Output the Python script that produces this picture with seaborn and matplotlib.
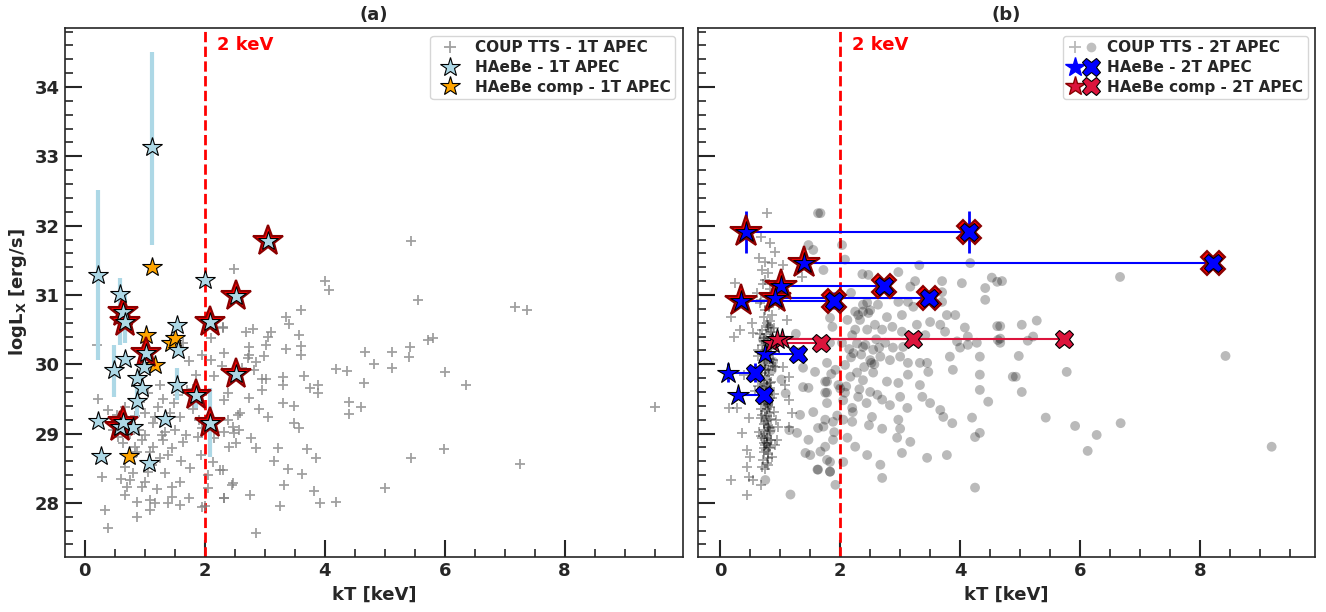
import pandas as pd
import seaborn as sns
import matplotlib.pyplot as plt
from matplotlib.lines import Line2D
from matplotlib.legend_handler import HandlerTuple
from matplotlib.ticker import MultipleLocator

# ---------------- panel (a): 1T APEC ----------------
# COUP TTS single-temperature fits (kT [keV], logLx [erg/s])
coup1_kt = [5.44, 2.48, 4.01, 4.08, 5.55, 3.61, 3.36, 3.40, 2.30, 2.11, 2.68, 2.80, 3.10, 3.05, 3.57,
            3.02, 2.74, 3.36, 3.61, 2.32, 2.74, 2.99, 3.61, 4.68, 5.13, 5.42, 5.40, 4.83, 5.13, 2.72,
            2.85, 2.10, 1.96, 2.28, 2.15, 2.82, 2.95, 3.02, 3.31, 3.31, 3.66, 4.19, 4.38, 3.89, 3.76,
            3.89, 4.66, 2.38, 2.32, 2.74, 2.95, 3.31, 3.49, 4.41, 4.40, 4.61, 3.05, 2.58, 2.38, 3.49,
            3.57, 2.32, 2.48, 2.57, 2.77, 2.52, 2.16, 2.85, 3.22, 3.71, 3.86, 2.13, 2.06, 2.30, 3.39,
            3.62, 2.45, 2.06, 3.32, 2.75, 2.32, 3.83, 3.93, 4.19, 3.26, 2.00, 2.85, 5.00, 5.44, 7.18,
            7.37, 5.72, 5.81, 6.01, 6.36, 9.51, 5.99, 7.25, 0.20, 0.22, 0.39, 0.67, 0.54, 1.01, 1.22,
            1.17, 1.59, 1.48, 1.29, 1.31, 1.01, 0.64, 0.84, 0.87, 0.79, 1.09, 1.14, 1.46, 1.39, 1.63,
            1.68, 1.88, 1.93, 0.67, 0.81, 0.76, 1.01, 0.70, 0.96, 1.34, 1.46, 1.59, 0.29, 0.67, 0.87,
            1.09, 1.17, 1.09, 0.87, 1.38, 1.46, 1.59, 1.73, 1.96, 0.34, 0.39, 1.96, 1.73, 1.71, 1.06,
            1.34, 1.64, 2.30, 2.47, 2.55, 2.40, 2.26, 2.47, 2.32, 1.85, 1.80, 1.25, 0.92, 1.12, 0.95,
            1.50, 1.60, 1.75, 1.20, 0.55, 1.30, 0.90, 1.05, 1.25, 0.60, 0.75, 1.42, 1.80, 1.90, 2.62,
            2.90, 3.15, 1.55, 1.13, 0.83, 0.47]
coup1_logl = [31.78, 31.38, 31.20, 31.07, 30.93, 30.78, 30.68, 30.58, 30.53, 30.38, 30.47, 30.51, 30.47, 30.40, 30.42,
              30.28, 30.25, 30.22, 30.27, 30.16, 30.14, 30.12, 30.14, 30.18, 30.18, 30.25, 30.11, 30.01, 29.95, 30.09,
              30.03, 30.06, 30.14, 29.98, 29.83, 29.92, 29.79, 29.79, 29.82, 29.70, 29.83, 29.93, 29.90, 29.70, 29.66,
              29.59, 29.73, 29.59, 29.49, 29.52, 29.63, 29.44, 29.40, 29.46, 29.28, 29.39, 29.24, 29.30, 29.20, 29.15,
              29.08, 29.02, 29.01, 29.05, 28.94, 28.87, 28.94, 28.79, 28.79, 28.78, 28.65, 28.59, 28.40, 28.48, 28.49,
              28.42, 28.26, 28.22, 28.26, 28.12, 28.07, 28.17, 28.00, 28.01, 27.96, 27.96, 27.57, 28.22, 28.65, 30.83,
              30.79, 30.35, 30.38, 29.89, 29.70, 29.39, 28.78, 28.56, 30.28, 29.50, 29.34, 29.39, 29.27, 29.30, 29.39,
              29.24, 29.24, 29.44, 28.98, 28.91, 28.98, 28.87, 28.81, 28.74, 28.66, 28.74, 28.81, 28.79, 28.69, 28.88,
              28.98, 28.95, 28.69, 28.52, 28.43, 28.33, 28.30, 28.23, 28.23, 28.43, 28.23, 28.30, 28.38, 28.12, 28.01,
              28.04, 28.00, 27.90, 27.80, 28.00, 28.09, 27.97, 28.07, 27.94, 27.90, 27.64, 29.08, 30.04, 29.63, 29.59,
              29.02, 30.31, 30.54, 29.10, 29.27, 28.81, 28.48, 28.29, 28.07, 29.85, 29.65, 29.70, 29.45, 28.55, 28.90,
              29.05, 28.60, 28.50, 28.20, 28.95, 29.50, 29.05, 28.45, 28.65, 28.35, 29.00, 29.30, 29.35, 29.20, 29.95,
              29.35, 28.60, 29.55, 29.15, 29.25, 29.05]

# HAeBe 1T fits, with asymmetric logLx errors; ring = highlighted source
haebe1_kt = [0.22, 1.12, 2.00, 0.59, 3.05, 2.52, 0.64, 0.67, 1.54, 1.56, 2.08, 1.02, 0.67, 0.49, 0.99,
             0.87, 0.96, 0.87, 1.54, 1.85, 2.52, 2.08, 0.22, 0.59, 0.80, 1.34, 0.27, 1.07, 0.63]
haebe1_logl = [31.29, 33.14, 31.22, 31.02, 31.78, 30.99, 30.76, 30.61, 30.57, 30.21, 30.61, 30.16, 30.08, 29.91, 29.96,
               29.80, 29.66, 29.47, 29.70, 29.56, 29.86, 29.15, 29.18, 29.10, 29.10, 29.21, 28.68, 28.57, 29.16]
haebe1_err_lo = [1.23, 1.42, 0, 0.74, 0, 0, 0, 0.30, 0, 0, 0, 0, 0, 0.38, 0,
                 0, 0, 0.25, 0.21, 0.19, 0, 0.49, 0, 0, 0, 0, 0.08, 0, 0]
haebe1_err_hi = [1.23, 1.37, 0, 0.23, 0, 0, 0, 0.45, 0, 0, 0, 0, 0, 0.37, 0,
                 0, 0, 0.20, 0.25, 0.07, 0, 0.51, 0, 0, 0, 0, 0.02, 0, 0]
haebe1_ring = [0, 0, 0, 0, 1, 1, 1, 1, 0, 0, 1, 1, 0, 0, 0,
               0, 0, 0, 0, 1, 1, 1, 0, 1, 0, 0, 0, 0, 1]

comp1_kt = [1.12, 1.02, 1.43, 1.51, 1.17, 0.74, 0.63]
comp1_logl = [31.41, 30.42, 30.31, 30.38, 29.99, 28.68, 29.17]

# ---------------- panel (b): 2T APEC ----------------
# COUP TTS cool component (crosses)
coup2_kt1 = [0.78, 0.67, 0.83, 0.64, 0.86, 0.69, 1.05, 1.36, 0.75, 0.25, 0.61, 0.17, 0.33, 0.22, 0.53,
             0.55, 1.11, 1.05, 1.14, 1.08, 1.14, 0.14, 0.28, 0.36, 0.97, 1.14, 0.95, 0.83, 0.44, 0.50,
             0.80, 0.44, 0.47, 0.69, 0.17, 0.55, 0.67, 0.44, 0.58, 0.62, 0.91, 1.20, 0.40, 0.48, 0.98,
             0.74, 0.79, 0.71, 0.83, 0.77, 0.68, 0.81, 0.75, 0.86, 0.72, 0.78, 0.80, 0.70, 0.84, 0.76,
             0.73, 0.82, 0.79, 0.69, 0.77, 0.85, 0.74, 0.71, 0.80, 0.78, 0.83, 0.75, 0.72, 0.88, 0.76,
             0.79, 0.70, 0.81, 0.74, 0.77, 0.84, 0.73, 0.78, 0.82, 0.69, 0.76, 0.80, 0.72, 0.87, 0.75,
             0.79, 0.71, 0.83, 0.77, 0.74, 0.81, 0.78, 0.68, 0.85, 0.76, 0.73, 0.80, 0.79, 0.72, 0.82,
             0.75, 0.77, 0.70, 0.84, 0.78, 0.74, 0.81, 0.76, 0.73, 0.79, 0.86, 0.71, 0.77, 0.80, 0.75,
             0.82, 0.72, 0.78, 0.74, 0.83, 0.76, 0.79, 0.69, 0.81, 0.77, 0.73, 0.80, 0.75, 0.78, 0.72,
             0.66, 0.90, 0.63, 0.92, 0.65, 0.89, 0.67, 0.93, 0.64, 0.91, 0.66, 0.88, 0.62, 0.90, 0.67]
coup2_logl1 = [32.18, 31.84, 31.75, 31.53, 31.46, 31.36, 31.43, 31.26, 31.22, 31.17, 31.03, 30.68, 30.50, 30.40, 30.60,
               30.45, 30.64, 29.96, 29.82, 29.70, 29.49, 29.37, 29.37, 29.01, 29.10, 29.10, 28.91, 28.79, 28.76, 28.66,
               28.65, 28.52, 28.38, 28.52, 28.33, 28.33, 28.26, 28.12, 29.62, 30.12, 31.62, 29.30, 29.85, 29.22, 30.85,
               31.47, 31.31, 31.16, 31.08, 30.97, 30.93, 30.82, 30.79, 30.71, 30.68, 30.60, 30.57, 30.49, 30.47, 30.43,
               30.38, 30.36, 30.31, 30.28, 30.27, 30.22, 30.19, 30.17, 30.13, 30.08, 30.07, 30.04, 29.99, 29.98, 29.93,
               29.92, 29.87, 29.84, 29.83, 29.77, 29.74, 29.72, 29.69, 29.66, 29.63, 29.62, 29.56, 29.54, 29.52, 29.47,
               29.44, 29.42, 29.38, 29.36, 29.33, 29.29, 29.26, 29.23, 29.21, 29.18, 29.14, 29.12, 29.09, 29.05, 29.03,
               28.99, 28.97, 28.93, 28.90, 28.86, 28.84, 28.81, 28.77, 28.73, 28.71, 28.66, 28.62, 28.58, 28.54, 28.49,
               30.62, 30.33, 30.12, 29.91, 29.73, 29.58, 29.41, 29.27, 29.08, 28.94, 28.79, 30.54, 30.02, 29.49, 28.86,
               30.88, 30.52, 30.21, 29.96, 29.81, 29.57, 29.35, 29.19, 29.02, 28.84, 30.44, 30.06, 29.68, 29.31, 28.97]

# COUP TTS hot component (circles)
coup2_kt2 = [1.67, 2.03, 2.08, 1.72, 2.37, 2.47, 2.97, 3.32, 3.70, 4.03, 4.17, 4.53, 4.42, 4.42, 4.62,
             3.17, 3.25, 3.70, 3.70, 2.18, 2.45, 2.63, 2.97, 3.13, 3.22, 2.38, 2.50, 2.78, 3.03, 2.30,
             2.12, 2.33, 2.25, 2.45, 2.58, 2.70, 2.87, 3.03, 3.28, 3.42, 3.50, 3.67, 3.78, 3.92, 4.08,
             4.13, 3.75, 4.28, 4.62, 4.67, 1.87, 1.83, 2.03, 2.20, 2.22, 2.38, 2.55, 2.75, 2.88, 3.05,
             2.50, 2.67, 2.83, 3.00, 3.13, 3.33, 3.47, 3.45, 3.83, 3.88, 4.00, 4.33, 4.33, 4.33, 4.47,
             1.78, 1.92, 2.08, 2.17, 2.28, 2.38, 2.55, 2.78, 2.97, 3.13, 3.33, 1.75, 1.97, 1.78, 2.08,
             2.30, 2.50, 3.00, 3.37, 3.50, 1.78, 2.20, 2.83, 2.70, 3.12, 3.67, 3.72, 3.87, 4.20, 4.33,
             4.25, 1.75, 1.88, 2.05, 2.20, 2.53, 2.97, 2.70, 3.00, 3.17, 2.95, 1.88, 2.12, 2.25, 2.45,
             3.03, 3.45, 3.78, 1.75, 1.78, 1.83, 2.05, 2.67, 2.70, 1.92, 4.25, 1.63, 1.47, 1.55, 1.38,
             1.58, 1.78, 1.47, 1.75, 1.55, 1.33, 1.63, 1.28, 1.47, 1.42, 1.62, 0.75, 1.17, 1.33, 1.83,
             2.38, 2.47, 2.25, 1.38, 1.72, 1.67, 1.50, 1.83, 1.63, 1.83, 4.88, 4.63, 4.13, 3.95, 4.70,
             6.67, 5.03, 5.28, 4.67, 5.22, 5.13, 4.67, 4.98, 8.43, 5.78, 4.93, 5.03, 5.43, 5.92, 6.68,
             6.28, 6.13, 9.20, 2.15, 2.42, 2.60, 2.35, 2.52, 2.18, 2.65, 2.28, 2.40, 2.10, 2.57, 2.32,
             2.44, 2.21, 2.62, 2.48, 1.95, 2.05, 1.90, 2.00, 1.85, 0.82, 0.78, 0.86, 0.73, 0.80, 0.76,
             0.84, 0.79, 0.71, 0.88, 1.02, 1.15, 1.26, 1.09]
coup2_logl2 = [32.18, 31.72, 31.51, 31.36, 31.30, 31.29, 31.33, 31.43, 31.20, 31.17, 31.46, 31.25, 31.10, 30.93, 31.19,
               31.12, 31.20, 31.04, 30.90, 31.03, 30.89, 30.86, 30.90, 30.90, 30.83, 30.76, 30.78, 30.68, 30.71, 30.71,
               30.64, 30.64, 30.50, 30.50, 30.57, 30.50, 30.54, 30.47, 30.57, 30.42, 30.61, 30.57, 30.71, 30.71, 30.53,
               30.40, 30.47, 30.31, 30.55, 30.31, 30.54, 30.31, 30.31, 30.42, 30.16, 30.25, 30.21, 30.31, 30.24, 30.25,
               30.06, 30.11, 30.06, 30.11, 30.02, 30.02, 29.89, 30.02, 30.11, 29.92, 30.24, 30.11, 29.85, 29.63, 29.46,
               30.02, 29.92, 29.99, 29.82, 29.88, 29.77, 29.88, 29.75, 29.73, 29.85, 29.70, 29.75, 29.70, 29.59, 29.59,
               29.53, 29.60, 29.53, 29.53, 29.44, 29.44, 29.37, 29.41, 29.49, 29.37, 29.34, 29.24, 29.15, 29.23, 29.01,
               28.95, 29.20, 29.17, 29.20, 29.17, 29.24, 29.20, 29.07, 29.07, 28.88, 28.94, 28.91, 28.94, 28.81, 28.69,
               28.72, 28.65, 28.69, 28.81, 28.62, 28.45, 28.59, 28.55, 28.36, 28.26, 28.22, 32.18, 31.72, 31.65, 29.95,
               29.89, 29.75, 29.66, 29.59, 29.31, 29.27, 29.08, 29.01, 28.91, 28.72, 28.48, 28.33, 28.12, 30.18, 30.67,
               30.86, 30.74, 30.76, 29.67, 29.10, 28.74, 28.69, 28.59, 28.48, 28.45, 29.82, 30.35, 30.28, 30.33, 31.20,
               31.26, 30.57, 30.63, 30.55, 30.40, 30.34, 30.37, 30.12, 30.12, 29.89, 29.82, 29.60, 29.23, 29.11, 29.15,
               28.98, 28.75, 28.81, 30.22, 30.28, 30.36, 30.14, 30.02, 30.10, 30.24, 30.30, 29.96, 29.68, 30.00, 29.64,
               29.44, 29.31, 29.56, 29.12, 29.26, 29.48, 29.02, 29.65, 29.86, 30.52, 30.18, 29.92, 29.71, 29.43, 29.20,
               29.05, 28.88, 30.36, 30.04, 29.78, 29.05, 30.44, 29.58]

# HAeBe 2T fits: cool kT1 (stars) and hot kT2 (crosses) share one logLx
haebe2_kt1 = [0.43, 1.40, 1.02, 0.35, 0.92, 0.75, 0.12, 0.30]
haebe2_kt2 = [4.15, 8.22, 2.73, 1.90, 3.48, 1.30, 0.58, 0.73]
haebe2_logl = [31.91, 31.46, 31.13, 30.92, 30.96, 30.15, 29.88, 29.55]
haebe2_err1 = [0.30, 0, 0, 0.10, 0, 0, 0.14, 0]
haebe2_err2 = [0.30, 0, 0, 0.12, 0, 0, 0.14, 0]
haebe2_ring = [1, 1, 1, 1, 1, 0, 0, 0]

comp2_kt1 = [0.87, 1.03, 0.95]
comp2_kt2 = [1.68, 3.22, 5.73]
comp2_logl = [30.30, 30.36, 30.36]

sns.set_style("ticks")
plt.rcParams["font.family"] = ["DejaVu Sans"]
plt.rcParams["font.weight"] = "bold"
plt.rcParams["axes.labelweight"] = "bold"
plt.rcParams["axes.titleweight"] = "bold"

fig, (ax1, ax2) = plt.subplots(1, 2, figsize=(13.26, 6.12), dpi=100, sharey=True)
fig.subplots_adjust(left=0.049, right=0.992, bottom=0.09, top=0.954, wspace=0.024)

# ---- (a) ----
df1 = pd.DataFrame({"kT": coup1_kt, "logL": coup1_logl})
sns.scatterplot(data=df1, x="kT", y="logL", marker="+", color="grey", alpha=0.75,
                s=55, linewidth=1.3, ax=ax1, zorder=2)

for kt, lg, lo, hi, ring in zip(haebe1_kt, haebe1_logl, haebe1_err_lo, haebe1_err_hi, haebe1_ring):
    if lo > 0 or hi > 0:
        ax1.errorbar(kt, lg, yerr=[[lo], [hi]], fmt="none", ecolor="lightblue", elinewidth=3, zorder=3)
for kt, lg in zip(comp1_kt, comp1_logl):
    ax1.plot(kt, lg, "*", ms=15, mfc="orange", mec="black", mew=0.8, zorder=4)
for kt, lg, ring in zip(haebe1_kt, haebe1_logl, haebe1_ring):
    if ring:
        ax1.plot(kt, lg, "*", ms=23, mfc="red", mec="darkred", mew=1.5, zorder=5)
    ax1.plot(kt, lg, "*", ms=15, mfc="lightblue", mec="black", mew=0.8, zorder=6)

h1 = [Line2D([], [], ls="none", marker="+", color="grey", alpha=0.75, ms=8, mew=1.3),
      Line2D([], [], ls="none", marker="*", ms=15, mfc="lightblue", mec="black", mew=0.8),
      Line2D([], [], ls="none", marker="*", ms=15, mfc="orange", mec="black", mew=0.8)]
ax1.legend(h1, ["COUP TTS - 1T APEC", "HAeBe - 1T APEC", "HAeBe comp - 1T APEC"],
           loc="upper right", fontsize=11, handletextpad=0.6, borderpad=0.3, labelspacing=0.3)
ax1.set_title("(a)", fontsize=13, fontweight="bold")
ax1.set_xlim(-0.33, 9.97)

# ---- (b) ----
df2a = pd.DataFrame({"kT": coup2_kt1, "logL": coup2_logl1})
df2b = pd.DataFrame({"kT": coup2_kt2, "logL": coup2_logl2})
sns.scatterplot(data=df2a, x="kT", y="logL", marker="+", color="black", alpha=0.35,
                s=60, linewidth=1.3, ax=ax2, zorder=2)
sns.scatterplot(data=df2b, x="kT", y="logL", marker="o", color="black", alpha=0.27,
                s=50, edgecolor="none", ax=ax2, zorder=2)

for k1, k2, lg, e1, e2, ring in zip(haebe2_kt1, haebe2_kt2, haebe2_logl, haebe2_err1, haebe2_err2, haebe2_ring):
    ax2.plot([k1, k2], [lg, lg], color="blue", lw=1.5, zorder=3)
    if e1 > 0:
        ax2.errorbar(k1, lg, yerr=e1, fmt="none", ecolor="blue", elinewidth=2, zorder=3)
    if e2 > 0:
        ax2.errorbar(k2, lg, yerr=e2, fmt="none", ecolor="blue", elinewidth=2, zorder=3)
    if ring:
        ax2.plot(k1, lg, "*", ms=24, mfc="red", mec="darkred", mew=1.5, zorder=5)
        ax2.plot(k2, lg, "X", ms=17, mfc="red", mec="darkred", mew=1.5, zorder=5)
    ax2.plot(k1, lg, "*", ms=16, mfc="blue", mec="black", mew=0.8, zorder=6)
    ax2.plot(k2, lg, "X", ms=13, mfc="blue", mec="black", mew=0.8, zorder=6)

for k1, k2, lg in zip(comp2_kt1, comp2_kt2, comp2_logl):
    ax2.plot([k1, k2], [lg, lg], color="crimson", lw=1.5, zorder=3)
    ax2.plot(k1, lg, "*", ms=16, mfc="crimson", mec="black", mew=0.8, zorder=6)
    ax2.plot(k2, lg, "X", ms=13, mfc="crimson", mec="black", mew=0.8, zorder=6)

h2 = [(Line2D([], [], ls="none", marker="+", color="black", alpha=0.28, ms=8, mew=1.3),
       Line2D([], [], ls="none", marker="o", color="black", alpha=0.25, ms=7, mec="none")),
      (Line2D([], [], ls="none", marker="*", ms=15, mfc="blue", mec="blue"),
       Line2D([], [], ls="none", marker="X", ms=13, mfc="blue", mec="black", mew=0.8)),
      (Line2D([], [], ls="none", marker="*", ms=15, mfc="crimson", mec="darkred"),
       Line2D([], [], ls="none", marker="X", ms=13, mfc="crimson", mec="black", mew=0.8))]
ax2.legend(h2, ["COUP TTS - 2T APEC", "HAeBe - 2T APEC", "HAeBe comp - 2T APEC"],
           handler_map={tuple: HandlerTuple(ndivide=None, pad=0.1)},
           loc="upper right", fontsize=11, handletextpad=0.6, borderpad=0.3, labelspacing=0.3)
ax2.set_title("(b)", fontsize=13, fontweight="bold")
ax2.set_xlim(-0.38, 9.93)

for ax in (ax1, ax2):
    ax.axvline(2, color="red", ls="--", lw=2, zorder=1)
    ax.text(2.2, 34.6, "2 keV", color="red", fontsize=13, fontweight="bold", va="center")
    ax.set_ylim(27.22, 34.85)
    ax.xaxis.set_major_locator(MultipleLocator(2))
    ax.xaxis.set_minor_locator(MultipleLocator(0.5))
    ax.yaxis.set_major_locator(MultipleLocator(1))
    ax.yaxis.set_minor_locator(MultipleLocator(0.2))
    ax.tick_params(which="major", direction="in", length=12, width=1.5, labelsize=13)
    ax.tick_params(which="minor", direction="in", length=6, width=1.2)
    ax.set_xlabel("kT [keV]", fontsize=13, fontweight="bold")
    for lbl in ax.get_xticklabels() + ax.get_yticklabels():
        lbl.set_fontweight("bold")
    for sp in ax.spines.values():
        sp.set_linewidth(1.2)

ax1.set_ylabel(r"logL$_\mathbf{X}$ [erg/s]", fontsize=13, fontweight="bold")
ax2.set_ylabel("")

plt.savefig("out.png", dpi=100)
